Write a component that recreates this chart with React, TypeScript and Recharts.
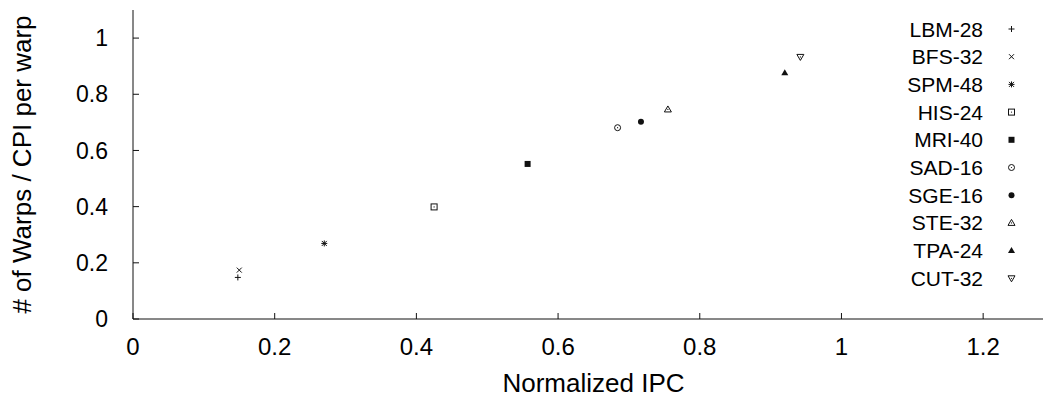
import React from "react";
import { ScatterChart, Scatter, XAxis, YAxis } from "recharts";

// benchmarks and their values (normalized IPC vs warps / CPI per warp)
const names = ["LBM-28", "BFS-32", "SPM-48", "HIS-24", "MRI-40", "SAD-16", "SGE-16", "STE-32", "TPA-24", "CUT-32"];
const ipc = [0.148, 0.150, 0.270, 0.425, 0.557, 0.684, 0.717, 0.755, 0.920, 0.942];
const warps = [0.148, 0.174, 0.269, 0.399, 0.552, 0.681, 0.702, 0.746, 0.877, 0.933];
const kinds = ["plus", "cross", "star", "box", "fbox", "circ", "fcirc", "tri", "ftri", "dtri"];

const xTicks = [0, 0.2, 0.4, 0.6, 0.8, 1, 1.2];
const yTicks = [0, 0.2, 0.4, 0.6, 0.8, 1];

const INK = "#111";
const FONT = "'Liberation Sans', Arial, Helvetica, sans-serif";

function marker(kind: string, cx: number, cy: number) {
  const p = { stroke: INK, strokeWidth: 1, fill: "none" };
  const dot = <circle cx={cx} cy={cy} r={0.6} fill={INK} />;
  switch (kind) {
    case "plus":
      return (
        <g {...p}>
          <line x1={cx - 3} y1={cy} x2={cx + 3} y2={cy} />
          <line x1={cx} y1={cy - 3} x2={cx} y2={cy + 3} />
        </g>
      );
    case "cross":
      return (
        <g {...p}>
          <line x1={cx - 2.5} y1={cy - 2.5} x2={cx + 2.5} y2={cy + 2.5} />
          <line x1={cx - 2.5} y1={cy + 2.5} x2={cx + 2.5} y2={cy - 2.5} />
        </g>
      );
    case "star":
      return (
        <g {...p}>
          <line x1={cx - 3} y1={cy} x2={cx + 3} y2={cy} />
          <line x1={cx} y1={cy - 3} x2={cx} y2={cy + 3} />
          <line x1={cx - 2.5} y1={cy - 2.5} x2={cx + 2.5} y2={cy + 2.5} />
          <line x1={cx - 2.5} y1={cy + 2.5} x2={cx + 2.5} y2={cy - 2.5} />
        </g>
      );
    case "box":
      return (
        <g>
          <rect x={cx - 3} y={cy - 3} width={6} height={6} {...p} />
          {dot}
        </g>
      );
    case "fbox":
      return <rect x={cx - 3} y={cy - 3} width={6} height={6} fill={INK} />;
    case "circ":
      return (
        <g>
          <circle cx={cx} cy={cy} r={3} {...p} />
          {dot}
        </g>
      );
    case "fcirc":
      return <circle cx={cx} cy={cy} r={3} fill={INK} />;
    case "tri":
      return (
        <g>
          <polygon points={`${cx},${cy - 3.5} ${cx - 3.5},${cy + 2.5} ${cx + 3.5},${cy + 2.5}`} {...p} />
          {dot}
        </g>
      );
    case "ftri":
      return <polygon points={`${cx},${cy - 3.5} ${cx - 3.5},${cy + 2.5} ${cx + 3.5},${cy + 2.5}`} fill={INK} />;
    default:
      return (
        <g>
          <polygon points={`${cx},${cy + 3.5} ${cx - 3.5},${cy - 2.5} ${cx + 3.5},${cy - 2.5}`} {...p} />
          {dot}
        </g>
      );
  }
}

export default function App() {
  return (
    <div style={{ position: "absolute", left: 0, top: 0, width: 1043, height: 397, overflow: "hidden", background: "#fff" }}>
      <ScatterChart width={1060} height={397} margin={{ top: 10, right: 6, bottom: 0, left: 0 }}>
        <XAxis
          type="number"
          dataKey="x"
          domain={[0, 1.3]}
          ticks={xTicks}
          allowDataOverflow
          height={78}
          tickSize={-6}
          tickMargin={25}
          axisLine={{ stroke: INK }}
          tickLine={{ stroke: INK }}
          tick={{ fill: "#000", fontSize: 24, fontFamily: FONT }}
          label={{ value: "Normalized IPC", position: "insideBottom", offset: 5, fill: "#000", fontSize: 26, fontFamily: FONT }}
        />
        <XAxis
          xAxisId="top"
          orientation="top"
          type="number"
          domain={[0, 1.3]}
          ticks={xTicks}
          allowDataOverflow
          height={0}
          tickSize={-6}
          tickFormatter={() => ""}
          axisLine={{ stroke: INK }}
          tickLine={{ stroke: INK }}
        />
        <YAxis
          type="number"
          dataKey="y"
          domain={[0, 1.1]}
          ticks={yTicks}
          allowDataOverflow
          width={133}
          tickSize={-6}
          tickMargin={31}
          axisLine={{ stroke: INK }}
          tickLine={{ stroke: INK }}
          tick={{ fill: "#000", fontSize: 23, fontFamily: FONT }}
          label={{
            value: "# of Warps / CPI per warp",
            angle: -90,
            position: "insideLeft",
            offset: 22,
            fill: "#000",
            fontSize: 26,
            fontFamily: FONT,
            style: { textAnchor: "middle" },
          }}
        />
        {names.map((n, i) => (
          <Scatter
            key={n}
            name={n}
            data={[{ x: ipc[i], y: warps[i] }]}
            isAnimationActive={false}
            shape={(props: any) => marker(kinds[i], props.cx, props.cy)}
          />
        ))}
      </ScatterChart>
      <svg style={{ position: "absolute", left: 0, top: 0, pointerEvents: "none" }} width={1043} height={397}>
        {names.map((n, i) => {
          const cy = 29 + i * 27.7;
          return (
            <g key={n}>
              <text x={983} y={cy + 7.5} textAnchor="end" fontSize={21} fontFamily={FONT} fill="#000">
                {n}
              </text>
              {marker(kinds[i], 1011.5, cy)}
            </g>
          );
        })}
      </svg>
    </div>
  );
}
